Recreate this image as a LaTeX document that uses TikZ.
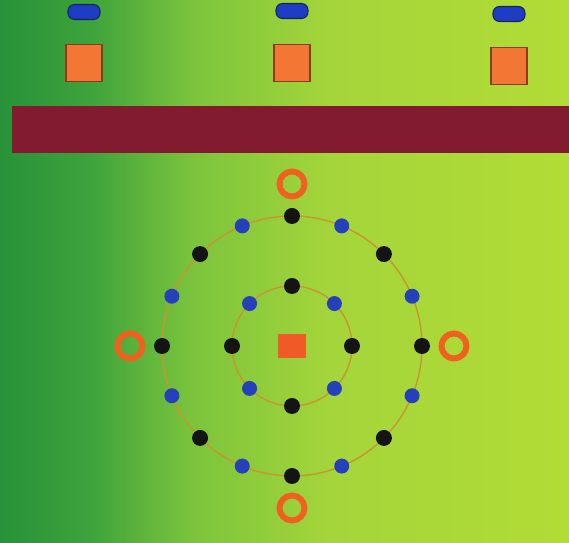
\documentclass[tikz,border=0pt]{standalone}
\usepackage{tikz}
\definecolor{fieldDark}{HTML}{279239}
\definecolor{fieldMid}{HTML}{3EA33B}
\definecolor{fieldLight}{HTML}{7CC43C}
\definecolor{fieldLime}{HTML}{A4D53A}
\definecolor{fieldEnd}{HTML}{B2DC36}
\definecolor{barRed}{HTML}{821A30}
\definecolor{pillBlue}{HTML}{1E3CC4}
\definecolor{pillEdge}{HTML}{14245E}
\definecolor{tileOrange}{HTML}{F27634}
\definecolor{tileEdge}{HTML}{8A3C1E}
\definecolor{coreRed}{HTML}{F05A26}
\definecolor{ringOrange}{HTML}{F0601E}
\definecolor{orbitGold}{HTML}{C8962E}
\definecolor{dotBlack}{HTML}{141414}
\definecolor{dotBlue}{HTML}{2440BA}
\pgfdeclarehorizontalshading{fieldShade}{100bp}{color(0bp)=(fieldDark); color(25bp)=(fieldDark);
  color(33bp)=(fieldMid); color(42bp)=(fieldLight); color(54bp)=(fieldLime); color(75bp)=(fieldEnd); color(100bp)=(fieldEnd)}

\begin{document}
\begin{tikzpicture}[x=0.02cm, y=-0.02cm,
    pill/.style={rectangle, rounded corners=0.13cm, fill=pillBlue, draw=pillEdge, line width=0.6pt,
      minimum width=0.64cm, minimum height=0.3cm, inner sep=0pt},
    tile/.style={rectangle, fill=tileOrange, draw=tileEdge, line width=0.6pt,
      minimum width=0.72cm, minimum height=0.74cm, inner sep=0pt},
    blackdot/.style={circle, fill=dotBlack, inner sep=0pt, minimum size=0.32cm},
    bluedot/.style={circle, fill=dotBlue, inner sep=0pt, minimum size=0.3cm},
    ring/.style={circle, draw=ringOrange, line width=3.4pt, minimum size=0.5cm, inner sep=0pt},
    orbit/.style={draw=orbitGold, line width=0.8pt}]
    % background
    \shade[shading=fieldShade] (0,0) rectangle (569,543);
    \useasboundingbox (0,0) rectangle (569,543);

    % top row
    \node[pill] (pillA) at (84,12) {};
    \node[pill] (pillB) at (292,11) {};
    \node[pill] (pillC) at (509,14) {};
    \node[tile] (tileA) at (84,63) {};
    \node[tile] (tileB) at (292,63) {};
    \node[tile] (tileC) at (509,66) {};

    \fill[barRed] (12,106) rectangle (569,153);

    % orbits
    \coordinate (centre) at (292,346);
    \draw[orbit] (centre) circle (130);
    \draw[orbit] (centre) circle (60);
    \node[rectangle, fill=coreRed, inner sep=0pt, minimum width=0.58cm, minimum height=0.48cm] (core) at (centre) {};

    \foreach \a [count=\k] in {0,45,...,315}
        \node[blackdot] (outerK\k) at ([shift={(\a:130)}]centre) {};
    \foreach \a [count=\k] in {22.5,67.5,...,337.5}
        \node[bluedot] (outerB\k) at ([shift={(\a:130)}]centre) {};
    \foreach \a [count=\k] in {0,90,180,270}
        \node[blackdot] (innerK\k) at ([shift={(\a:60)}]centre) {};
    \foreach \a [count=\k] in {45,135,225,315}
        \node[bluedot] (innerB\k) at ([shift={(\a:60)}]centre) {};
    \foreach \a [count=\k] in {0,90,180,270}
        \node[ring] (ring\k) at ([shift={(\a:162)}]centre) {};
\end{tikzpicture}
\end{document}
